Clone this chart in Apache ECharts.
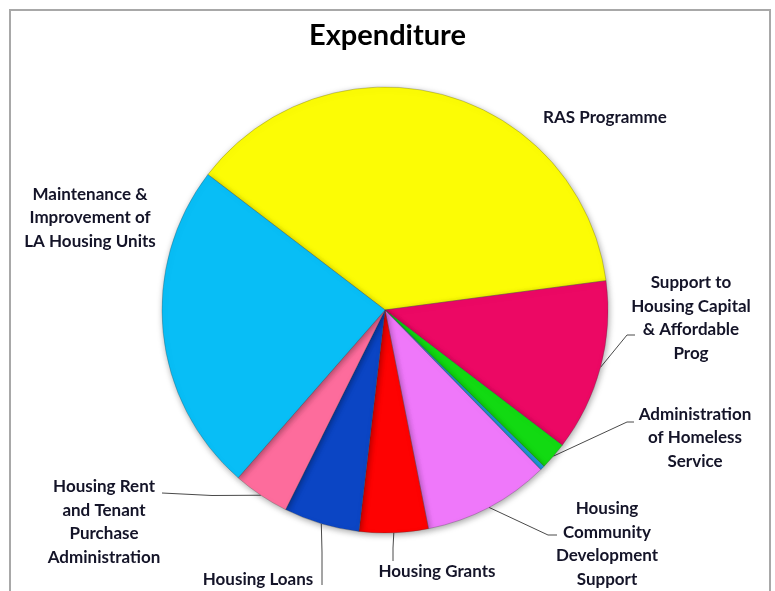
<!DOCTYPE html>
<html>
<head>
<meta charset="utf-8">
<script src="https://cdn.jsdelivr.net/npm/echarts@6/dist/echarts.min.js"></script>
<style>
  html, body { margin: 0; padding: 0; background: #ffffff; }
  #chart { width: 775px; height: 591px; }
</style>
</head>
<body>
<div id="chart"></div>
<script>
// Housing expenditure by service (share of total, %)
const categories = [
  'RAS Programme',
  'Support to\nHousing Capital\n& Affordable\nProg',
  'Administration\nof Homeless\nService',
  'Agency & Recoupable Services',
  'Housing\nCommunity\nDevelopment\nSupport',
  'Housing Grants',
  'Housing Loans',
  'Housing Rent\nand Tenant\nPurchase\nAdministration',
  'Maintenance &\nImprovement of\nLA Housing Units'
];
const shares = [37.6, 12.5, 2.0, 0.33, 9.2, 5.0, 5.5, 4.1, 24.0];
const colors = ['#FCFC05', '#EC0864', '#12DA12', '#1E9BE0', '#EF78FA',
                '#FE0202', '#0B45C4', '#FD6C9C', '#08BEF6'];

// label placement: text centre, then the leader's elbow and end (null = no leader)
const labelPlacement = [
  { at: [605, 118] },
  { at: [691, 318], line: [[627, 335], [635, 335]] },
  { at: [695, 438], line: [[627, 422], [634, 422]] },
  null,
  { at: [607, 544], line: [[548, 535], [557, 535]] },
  { at: [437, 572], line: [[393, 548], [393, 561]] },
  { at: [258, 580], line: [[322, 552], [322, 585]] },
  { at: [104, 522], line: [[212, 495.5], [162, 493]] },
  { at: [90, 218] }
];

const chart = echarts.init(document.getElementById('chart'), null, { renderer: 'canvas' });

const data = categories.map((name, i) => ({
  name: name,
  value: shares[i],
  itemStyle: { color: colors[i] },
  label: { show: labelPlacement[i] !== null },
  labelLine: { show: !!(labelPlacement[i] && labelPlacement[i].line) }
}));

chart.setOption({
  animation: false,
  backgroundColor: '#ffffff',
  title: {
    text: 'Expenditure',
    left: 'center',
    top: 16,
    textStyle: { fontFamily: 'Lato', fontWeight: 'bold', fontSize: 29, color: '#000000' }
  },
  graphic: [{
    type: 'rect',
    shape: { x: 10, y: 10, width: 760, height: 620 },
    style: { fill: 'none', stroke: '#a8a8a8', lineWidth: 2 },
    silent: true,
    z: -1
  }],
  series: [{
    type: 'pie',
    center: [385, 310],
    radius: 223,
    startAngle: 142.6,
    clockwise: true,
    avoidLabelOverlap: false,
    itemStyle: {
      borderColor: 'rgba(60,60,60,0.35)',
      borderWidth: 0.8,
      shadowBlur: 6,
      shadowColor: 'rgba(0,0,0,0.35)',
      shadowOffsetX: 1,
      shadowOffsetY: 2
    },
    label: {
      position: 'outside',
      formatter: '{b}',
      fontFamily: 'Lato',
      fontWeight: 'bold',
      fontSize: 17,
      lineHeight: 23.5,
      color: '#141428',
      align: 'center'
    },
    labelLine: {
      show: true,
      length: 10,
      length2: 10,
      lineStyle: { color: '#4a4a4a', width: 1 }
    },
    labelLayout: function (params) {
      const spot = labelPlacement[params.dataIndex];
      if (!spot) { return {}; }
      const out = {
        x: spot.at[0],
        y: spot.at[1],
        align: 'center',
        verticalAlign: 'middle'
      };
      if (spot.line && params.labelLinePoints) {
        out.labelLinePoints = [params.labelLinePoints[0], spot.line[0], spot.line[1]];
      }
      return out;
    },
    emphasis: { disabled: true },
    data: data
  }]
});
</script>
</body>
</html>
